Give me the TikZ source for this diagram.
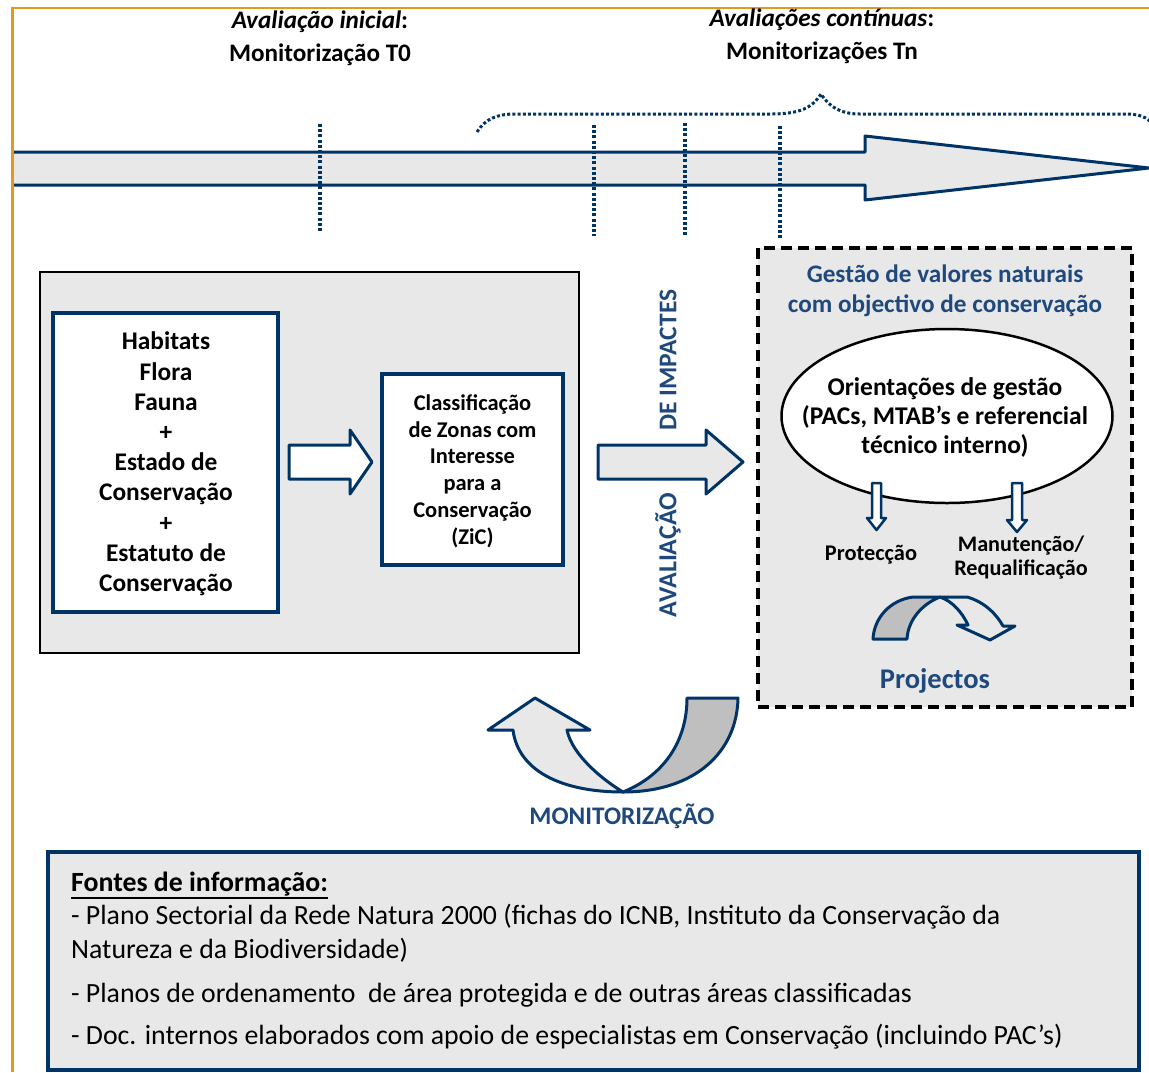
\documentclass[tikz,border=0pt]{standalone}
\usepackage{fontspec}
\setmainfont{Carlito}
\usetikzlibrary{shapes.geometric}
\definecolor{navy}{RGB}{0,51,102}
\definecolor{tblue}{RGB}{31,73,125}
\definecolor{lgrey}{RGB}{232,232,232}
\definecolor{dgrey}{RGB}{191,191,191}
\definecolor{frameorange}{RGB}{228,151,33}
\tikzset{
  navyline/.style={draw=navy,line width=3pt,line join=round},
  tick/.style={draw=navy,line width=3.5pt,dash pattern=on 3pt off 2.2pt},
  txt/.style={inner sep=0pt,font=\bfseries\fontsize{25.2}{30}\selectfont,align=center},
  btxt/.style={inner sep=0pt,anchor=west,font=\fontsize{27.8}{33}\selectfont},
}
\begin{document}
\begin{tikzpicture}[x=1pt,y=-1pt]
\useasboundingbox (0,0) rectangle (1149,1072);
% orange frame
\draw[frameorange,line width=2.5pt] (12.5,1072) -- (12.5,8) -- (1149,8);
% titles
\node[txt] (t0a) at (320,22) {\textit{Avaliação inicial}:};
\node[txt] (t0b) at (320,55) {Monitorização T0};
\node[txt] (tna) at (822,20) {\textit{Avaliações contínuas}:};
\node[txt] (tnb) at (822,53) {Monitorizações Tn};
% timeline arrow
\fill[lgrey] (14,152) -- (865,152) -- (865,136) -- (1149,168) -- (865,200) -- (865,185) -- (14,185) -- cycle;
\draw[navyline] (14,152) -- (865,152) -- (865,136) -- (1149,168) -- (865,200) -- (865,185) -- (14,185);
% brace
\draw[tick,line width=3pt] (477,132) .. controls (485,119) and (497,114) .. (515,114) -- (770,114)
  .. controls (800,114) and (812,108) .. (821,94) .. controls (830,108) and (842,114) .. (860,114)
  -- (1125,114) .. controls (1137,114) and (1144,116) .. (1150,121);
% ticks
\coordinate (k1a) at (320,124); \coordinate (k1b) at (320,233);
\coordinate (k2a) at (594,125); \coordinate (k2b) at (594,236);
\coordinate (k3a) at (685,123); \coordinate (k3b) at (685,235);
\coordinate (k4a) at (780,126); \coordinate (k4b) at (780,238);
\draw[tick] (k1a) -- (k1b);
\draw[tick] (k2a) -- (k2b);
\draw[tick] (k3a) -- (k3b);
\draw[tick] (k4a) -- (k4b);
% left big box
\node[draw=black,line width=2.5pt,fill=lgrey,minimum width=539pt,minimum height=381pt,inner sep=0pt] (big) at (309.5,462.5) {};
\node[draw=navy,line width=4pt,fill=white,minimum width=225pt,minimum height=299pt,inner sep=0pt] (hab) at (165.5,462.5) {};
\node[txt,font=\bfseries\fontsize{25.4}{30.2}\selectfont] (habt) at (166,464) {Habitats\\Flora\\Fauna\\+\\Estado de\\Conservação\\+\\Estatuto de\\Conservação};
\node[draw=navy,line width=4pt,fill=white,minimum width=181pt,minimum height=191pt,inner sep=0pt] (zic) at (472.5,469.5) {};
\node[txt,font=\bfseries\fontsize{22.5}{26.8}\selectfont] (zict) at (472.5,471) {Classificação\\de Zonas com\\Interesse\\para a\\Conservação\\(ZiC)};
% hollow arrow 1
\draw[navyline,fill=white] (289,445) -- (350,445) -- (350,430) -- (372,462) -- (350,494) -- (350,479) -- (289,479) -- cycle;
% big arrow 2
\draw[navyline,fill=lgrey] (598,445) -- (706,445) -- (706,430) -- (743,462) -- (706,494) -- (706,479) -- (598,479) -- cycle;
\node[txt,rotate=90,text=tblue,font=\bfseries\fontsize{26}{30}\selectfont] (av1) at (668,555) {AVALIAÇÃO};
\node[txt,rotate=90,text=tblue,font=\bfseries\fontsize{25.5}{30}\selectfont] (av2) at (668,360) {DE IMPACTES};
% dashed management box
\draw[black,line width=4pt,fill=lgrey,dash pattern=on 11pt off 6pt] (758,248) rectangle (1132,707);
\node[txt,text=tblue] (gt) at (945,291) {Gestão de valores naturais\\com objectivo de conservação};
\node[draw=black,line width=2.5pt,fill=white,ellipse,minimum width=331pt,minimum height=174pt,inner sep=0pt] (ell) at (947,416) {};
\node[txt,font=\bfseries\fontsize{25.5}{29}\selectfont] (ellt) at (945,417) {Orientações de gestão\\(PACs, MTAB’s e referencial\\técnico interno)};
% small arrows
\draw[navyline,line width=2.5pt,fill=white] (872,483) -- (881,483) -- (881,518) -- (886,518) -- (876.5,530) -- (867,518) -- (872,518) -- cycle;
\draw[navyline,line width=2.5pt,fill=white] (1012,483) -- (1022,483) -- (1022,520) -- (1027,520) -- (1017,532) -- (1007,520) -- (1012,520) -- cycle;
\node[txt,font=\bfseries\fontsize{22.4}{24}\selectfont] (prot) at (871,555) {Protecção};
\node[txt,font=\bfseries\fontsize{22.2}{24}\selectfont] (man) at (1021,558) {Manutenção/\\Requalificação};
% projectos arrow
\draw[navyline,fill=dgrey] (873,639) .. controls (874,618) and (890,600) .. (913,597) -- (940,597) .. controls (922,604) and (908,620) .. (907,639) -- cycle;
\draw[navyline,fill=lgrey] (940,597) -- (967,597) .. controls (985,602) and (997,615) .. (1003,626) -- (1015,626) -- (990,640) -- (957,625) -- (968,625) .. controls (962,612) and (952,601) .. (940,597) -- cycle;
\node[txt,text=tblue,font=\bfseries\fontsize{28.5}{30}\selectfont] (proj) at (935,681) {Projectos};
% monitorizacao arrow
\draw[navyline,fill=lgrey] (513,730) .. controls (518,770) and (560,792) .. (623,792) .. controls (603,780) and (572,755) .. (567,730) -- (590,730) -- (535,698) -- (488,730) -- cycle;
\draw[navyline,fill=dgrey] (623,792) .. controls (695,792) and (737,752) .. (738,698) -- (687,698) .. controls (687,740) and (665,775) .. (623,792) -- cycle;
\node[txt,text=tblue,font=\bfseries\fontsize{25.3}{30}\selectfont] (mon) at (622,816) {MONITORIZAÇÃO};
% sources box
\node[draw=navy,line width=4pt,fill=lgrey,minimum width=1091pt,minimum height=218pt,inner sep=0pt] (src) at (593,961) {};
\node[btxt,font=\bfseries\fontsize{27.8}{33}\selectfont] (s0) at (71,884) {Fontes de informação:};
\draw[black,line width=2.2pt] ([yshift=-1.5pt]s0.south west) -- ([yshift=-1.5pt]s0.south east);
\node[btxt] (s1) at (71,917) {- Plano Sectorial da Rede Natura 2000 (fichas do ICNB, Instituto da Conservação da};
\node[btxt] (s2) at (71,950) {Natureza e da Biodiversidade)};
\node[btxt] (s3) at (71,995) {- Planos de ordenamento\ \ de área protegida e de outras áreas classificadas};
\node[btxt] (s4) at (71,1037) {- Doc. internos elaborados com apoio de especialistas em Conservação (incluindo PAC’s)};
\end{tikzpicture}
\end{document}
